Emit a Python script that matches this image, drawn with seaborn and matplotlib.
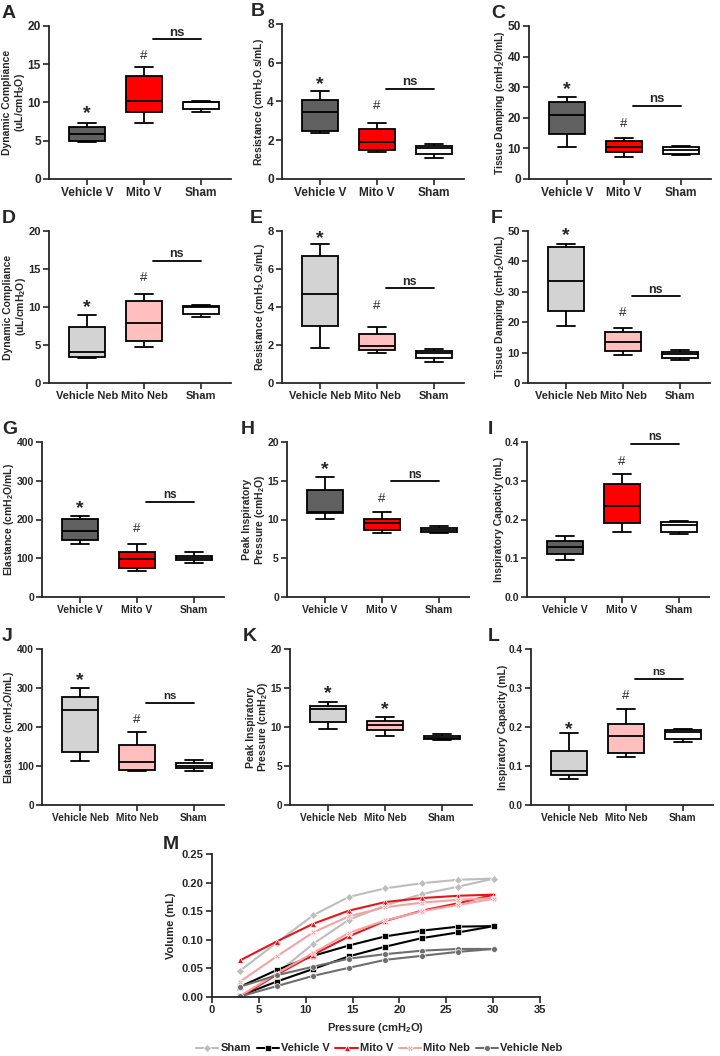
import numpy as np
import pandas as pd
import matplotlib
matplotlib.use("Agg")
import matplotlib.pyplot as plt
import seaborn as sns

W, H = 720, 1056

# box panels: min, q1, median, q3, max
groups_v = ["Vehicle V", "Mito V", "Sham"]
groups_neb = ["Vehicle Neb", "Mito Neb", "Sham"]

comp_v = [[4.8, 5.0, 5.9, 6.8, 7.3], [7.3, 8.8, 10.2, 13.5, 14.6], [8.7, 9.1, 10.0, 10.1, 10.2]]
res_v = [[2.35, 2.5, 3.45, 4.1, 4.55], [1.4, 1.5, 1.9, 2.6, 2.9], [1.1, 1.3, 1.6, 1.7, 1.8]]
damp_v = [[10.4, 14.8, 20.8, 25.0, 26.8], [7.2, 8.7, 10.3, 12.5, 13.5], [7.7, 8.3, 9.4, 10.3, 10.8]]
comp_neb = [[3.3, 3.4, 4.1, 7.4, 8.9], [4.7, 5.5, 7.9, 10.8, 11.7], [8.7, 9.1, 10.0, 10.1, 10.2]]
res_neb = [[1.85, 3.0, 4.7, 6.7, 7.3], [1.6, 1.75, 1.95, 2.6, 2.95], [1.1, 1.3, 1.6, 1.7, 1.8]]
damp_neb = [[18.7, 23.6, 33.5, 44.8, 45.8], [9.3, 10.6, 13.4, 16.8, 18.1], [7.7, 8.3, 9.4, 10.3, 10.8]]
elast_v = [[137, 147, 170, 202, 210], [68, 75, 98, 115, 138], [88, 95, 100, 107, 115]]
pip_v = [[10.1, 10.8, 11.0, 13.8, 15.5], [8.2, 8.7, 9.5, 10.1, 11.0], [8.3, 8.4, 8.6, 8.9, 9.1]]
ic_v = [[0.095, 0.11, 0.128, 0.145, 0.157], [0.167, 0.19, 0.234, 0.292, 0.317], [0.162, 0.168, 0.187, 0.193, 0.196]]
elast_neb = [[113, 137, 243, 278, 300], [86, 91, 110, 155, 186], [88, 95, 100, 107, 115]]
pip_neb = [[9.7, 10.6, 12.3, 12.7, 13.2], [8.8, 9.6, 10.3, 10.8, 11.3], [8.3, 8.4, 8.6, 8.9, 9.1]]
ic_neb = [[0.067, 0.078, 0.088, 0.138, 0.184], [0.124, 0.133, 0.178, 0.208, 0.247], [0.162, 0.168, 0.187, 0.193, 0.196]]

# pressure-volume loops (panel M)
pressure = [3.0, 6.9, 10.8, 14.6, 18.5, 22.4, 26.3, 30.1]
sham_low = [0.000, 0.041, 0.093, 0.135, 0.160, 0.180, 0.193, 0.207]
sham_up = [0.046, 0.095, 0.143, 0.175, 0.190, 0.199, 0.205, 0.207]
vehv_low = [0.002, 0.027, 0.049, 0.071, 0.088, 0.103, 0.113, 0.124]
vehv_up = [0.018, 0.047, 0.072, 0.090, 0.106, 0.116, 0.123, 0.124]
mitov_low = [0.000, 0.039, 0.074, 0.106, 0.133, 0.151, 0.164, 0.179]
mitov_up = [0.064, 0.097, 0.128, 0.151, 0.166, 0.173, 0.177, 0.179]
mitoneb_low = [0.002, 0.041, 0.077, 0.112, 0.134, 0.150, 0.161, 0.172]
mitoneb_up = [0.027, 0.071, 0.113, 0.141, 0.157, 0.165, 0.170, 0.173]
vehneb_low = [0.001, 0.019, 0.037, 0.051, 0.065, 0.072, 0.079, 0.084]
vehneb_up = [0.018, 0.038, 0.053, 0.067, 0.075, 0.081, 0.084, 0.084]

pal_v = ["#606060", "#ff0000", "#ffffff"]
pal_neb = ["#d3d3d3", "#ffbfbf", "#ffffff"]

sns.set_style("ticks")
plt.rcParams["font.family"] = ["Liberation Sans", "DejaVu Sans"]
plt.rcParams["font.weight"] = "bold"
plt.rcParams["axes.labelweight"] = "bold"
plt.rcParams["mathtext.fontset"] = "custom"
plt.rcParams["mathtext.rm"] = "Liberation Sans:bold"
plt.rcParams["mathtext.it"] = "Liberation Sans:bold"
plt.rcParams["mathtext.bf"] = "Liberation Sans:bold"
plt.rcParams["mathtext.default"] = "rm"

fig = plt.figure(figsize=(7.2, 10.56), dpi=100)

cm = r"cmH$_2$O"
# letter, data, groups, palette, ylabel, ymax, step, marks, ns y, (left, top, bottom) px, letter x px, tick size
panels = [
    ("A", comp_v, groups_v, pal_v, "Dynamic Compliance\n(uL/" + cm + ")", 20, 5, [(0, "*", 9.3), (1, "#", 16.3)], 18.3, (49, 26, 179), 2, 8.6),
    ("B", res_v, groups_v, pal_v, "Resistance (" + cm + ".s/mL)", 8, 2, [(0, "*", 5.2), (1, "#", 3.87)], 4.66, (282, 24, 179), 251, 8.6),
    ("C", damp_v, groups_v, pal_v, "Tissue Damping (" + cm + "/mL)", 50, 10, [(0, "*", 31.0), (1, "#", 18.7)], 23.9, (529, 26, 179), 491, 8.6),
    ("D", comp_neb, groups_neb, pal_neb, "Dynamic Compliance\n(uL/" + cm + ")", 20, 5, [(0, "*", 10.7), (1, "#", 14.1)], 16.1, (49, 231, 383), 2, 8.0),
    ("E", res_neb, groups_neb, pal_neb, "Resistance (" + cm + ".s/mL)", 8, 2, [(0, "*", 7.93), (1, "#", 4.16)], 4.98, (282, 231, 383), 250, 8.0),
    ("F", damp_neb, groups_neb, pal_neb, "Tissue Damping (" + cm + "/mL)", 50, 10, [(0, "*", 50.5), (1, "#", 23.5)], 28.6, (528, 231, 383), 491, 8.0),
    ("G", elast_v, groups_v, pal_v, "Elastance (" + cm + "/mL)", 400, 100, [(0, "*", 243), (1, "#", 181)], 246, (42, 442, 597), 2, 7.5),
    ("H", pip_v, groups_v, pal_v, "Peak Inspiratory\nPressure (" + cm + ")", 20, 5, [(0, "*", 17.25), (1, "#", 12.9)], 14.97, (287, 442, 597), 241, 7.5),
    ("I", ic_v, groups_v, pal_v, "Inspiratory Capacity (mL)", 0.4, 0.1, [(1, "#", 0.354)], 0.396, (527, 442, 597), 488, 7.5),
    ("J", elast_neb, groups_neb, pal_neb, "Elastance (" + cm + "/mL)", 400, 100, [(0, "*", 333), (1, "#", 222)], 262, (42, 649, 805), 2, 7.3),
    ("K", pip_neb, groups_neb, pal_neb, "Peak Inspiratory\nPressure (" + cm + ")", 20, 5, [(0, "*", 15.1), (1, "*", 13.0)], None, (290, 649, 805), 243, 7.3),
    ("L", ic_neb, groups_neb, pal_neb, "Inspiratory Capacity (mL)", 0.4, 0.1, [(0, "*", 0.209), (1, "#", 0.285)], 0.324, (531, 649, 805), 488, 7.3),
]

for letter, data, groups, pal, ylab, ymax, step, marks, ns_y, (left, top, bottom), lx, tsize in panels:
    ax = fig.add_axes([left / W, 1 - bottom / H, 182 / W, (bottom - top) / H])
    df = pd.DataFrame({"group": np.repeat(groups, 5), "value": np.concatenate(data)})
    sns.boxplot(data=df, x="group", y="value", hue="group", order=groups, hue_order=groups,
                palette=pal, saturation=1, whis=(0, 100), width=0.64, linewidth=1.3,
                linecolor="black", showfliers=False, legend=False, ax=ax)
    ax.set_xlim(-0.67, 2.53)
    ax.set_ylim(0, ymax)
    ax.set_yticks(np.arange(0, ymax + step / 2, step))
    if ymax < 1:
        ax.yaxis.set_major_formatter(matplotlib.ticker.FormatStrFormatter("%.1f"))
    ax.set_xlabel("")
    ax.set_ylabel(ylab, fontsize=7.5, labelpad=0.5, linespacing=1.05)
    sns.despine(ax=ax)
    for s in ["left", "bottom"]:
        ax.spines[s].set_linewidth(1.3)
    ax.tick_params(direction="out", length=4, width=1.2, labelsize=tsize, pad=1.8)
    for t in ax.get_xticklabels() + ax.get_yticklabels():
        t.set_fontweight("bold")
    for xi, sym, yv in marks:
        if sym == "*":
            ax.annotate("*", (xi, yv), xytext=(0, -7.5), textcoords="offset points",
                        ha="center", va="baseline", fontsize=14, fontweight="bold",
                        annotation_clip=False)
        else:
            ax.annotate("#", (xi, yv), xytext=(0, -3.4), textcoords="offset points",
                        ha="center", va="baseline", fontsize=9.5, fontweight="normal",
                        annotation_clip=False)
    if ns_y is not None:
        ax.plot([1.15, 2.0], [ns_y, ns_y], color="black", lw=1.3, clip_on=False)
        ax.annotate("ns", (1.575, ns_y), xytext=(0, 2.5), textcoords="offset points",
                    ha="center", va="baseline", fontsize=tsize + 0.9, fontweight="bold",
                    annotation_clip=False)
    fig.text(lx / W, 1 - (top - 21) / H, letter,
             fontsize=14, fontweight="bold", va="top", ha="left")

# panel M
pv_groups = ["Sham", "Vehicle V", "Mito V", "Mito Neb", "Vehicle Neb"]
pv_low = [sham_low, vehv_low, mitov_low, mitoneb_low, vehneb_low]
pv_up = [sham_up, vehv_up, mitov_up, mitoneb_up, vehneb_up]
rows = []
for g, lo, up in zip(pv_groups, pv_low, pv_up):
    for p, v in zip(pressure, lo):
        rows.append((g, "inflation", p, v))
    for p, v in zip(pressure, up):
        rows.append((g, "deflation", p, v))
pv = pd.DataFrame(rows, columns=["group", "limb", "pressure", "volume"])

pv_colors = {"Sham": "#bdbdbd", "Vehicle V": "#000000", "Mito V": "#e8141c",
             "Mito Neb": "#f4a3a3", "Vehicle Neb": "#6e6e6e"}
pv_markers = {"Sham": "D", "Vehicle V": "s", "Mito V": "^", "Mito Neb": "X", "Vehicle Neb": "o"}

axm = fig.add_axes([212 / W, 1 - 997 / H, 328 / W, 143 / H])
sns.lineplot(data=pv, x="pressure", y="volume", hue="group", style="group", units="limb",
             estimator=None, sort=False, hue_order=pv_groups, style_order=pv_groups,
             palette=pv_colors, markers=pv_markers, dashes=False, linewidth=1.5,
             markersize=4.2, markeredgewidth=0.5, ax=axm)
axm.set_xlim(0, 35)
axm.set_ylim(0, 0.25)
axm.set_xticks(np.arange(0, 36, 5))
axm.set_yticks(np.arange(0, 0.26, 0.05))
axm.yaxis.set_major_formatter(matplotlib.ticker.FormatStrFormatter("%.2f"))
axm.set_xlabel("Pressure (" + cm + ")", fontsize=8)
axm.set_ylabel("Volume (mL)", fontsize=8)
sns.despine(ax=axm)
for s in ["left", "bottom"]:
    axm.spines[s].set_linewidth(1.3)
axm.tick_params(direction="out", length=4, width=1.2, labelsize=8, pad=2)
for t in axm.get_xticklabels() + axm.get_yticklabels():
    t.set_fontweight("bold")
h, l = axm.get_legend_handles_labels()
axm.legend(h, l, loc="center", bbox_to_anchor=(0.51, -0.36), ncol=5, frameon=False,
           handlelength=2.0, columnspacing=0.5, handletextpad=0.2,
           prop={"size": 8, "weight": "bold"})
fig.text(163 / W, 1 - 836 / H, "M", fontsize=14, fontweight="bold", va="top", ha="left")

fig.savefig("out.png", dpi=100)
